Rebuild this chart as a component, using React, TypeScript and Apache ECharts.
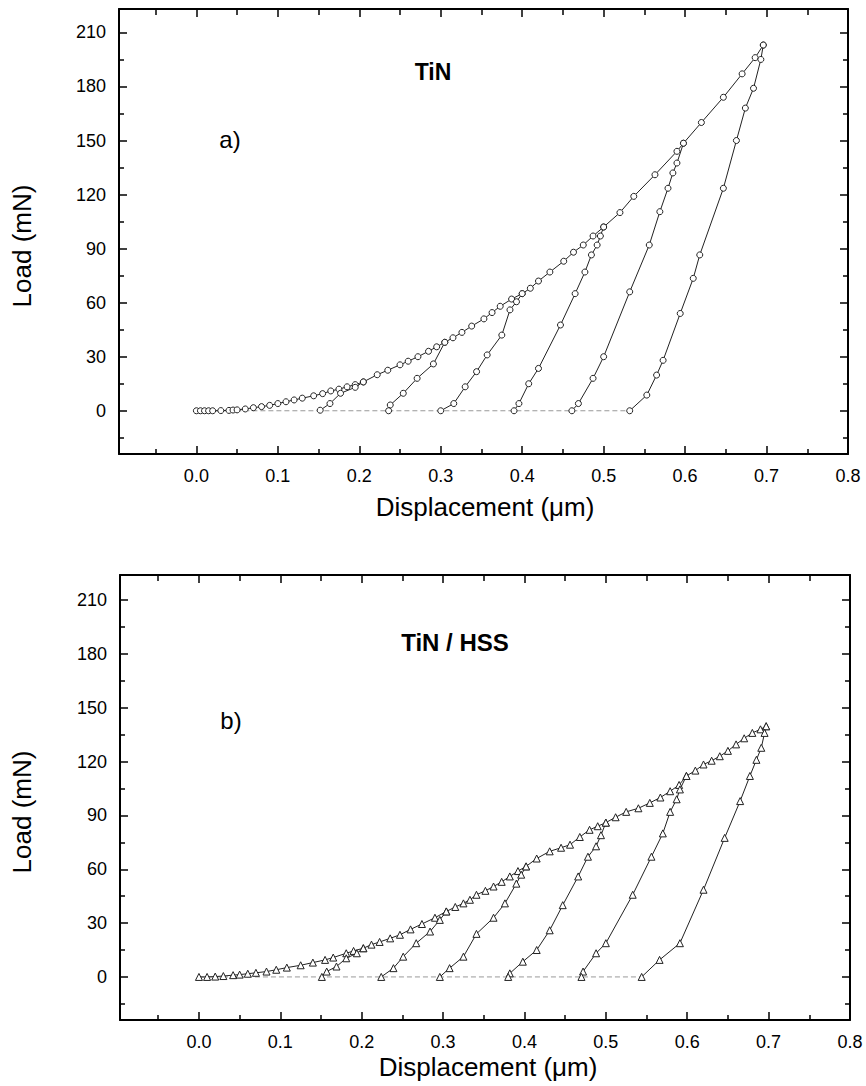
import React, { useEffect, useRef } from "react";
import * as echarts from "echarts";

const FONT = "'Liberation Sans', Arial, Helvetica, sans-serif";

// Tick values
const xMajor = [0, 0.1, 0.2, 0.3, 0.4, 0.5, 0.6, 0.7, 0.8];
const xMinor = [-0.05, 0.05, 0.15, 0.25, 0.35, 0.45, 0.55, 0.65, 0.75];
const yMajor = [0, 30, 60, 90, 120, 150, 180, 210];
const yMinor = [-15, 15, 45, 75, 105, 135, 165, 195];

// ---- Panel a) TiN : loading envelope and unloading curves (displacement µm, load mN)
const envA: number[][] = [
  [0, 0], [0.005, 0], [0.01, 0], [0.015, 0], [0.02, 0], [0.03, 0.1], [0.04, 0.2], [0.045, 0.4],
  [0.05, 0.5], [0.06, 1], [0.07, 1.7], [0.08, 2.3], [0.09, 3], [0.1, 4], [0.11, 5], [0.12, 6],
  [0.13, 7], [0.144, 8.3], [0.155, 9.5], [0.165, 11], [0.175, 12], [0.185, 13.3], [0.195, 14.5],
  [0.205, 16], [0.222, 20], [0.235, 22.5], [0.25, 25.5], [0.26, 27.5], [0.272, 30], [0.285, 33],
  [0.295, 35.5], [0.305, 38], [0.315, 40.5], [0.326, 43.5], [0.338, 47], [0.353, 51], [0.363, 54.5],
  [0.373, 58], [0.387, 62], [0.4, 65], [0.41, 68], [0.42, 72], [0.434, 77], [0.451, 83], [0.463, 88],
  [0.475, 92], [0.487, 97], [0.5, 102], [0.52, 110], [0.537, 119], [0.563, 131], [0.59, 144],
  [0.598, 148.5], [0.62, 160], [0.647, 174], [0.67, 187], [0.686, 196], [0.696, 203],
];
const unA2: number[][] = [[0.205, 16], [0.195, 13], [0.177, 9.7], [0.164, 4], [0.152, 0.3]];
const unA3: number[][] = [[0.305, 38], [0.291, 26], [0.271, 18], [0.254, 9.7], [0.238, 3.2], [0.236, 0]];
const unA4: number[][] = [
  [0.4, 65], [0.393, 60.5], [0.385, 56], [0.375, 42], [0.357, 31], [0.344, 21.7], [0.33, 13.3],
  [0.316, 4], [0.3, 0],
];
const unA5: number[][] = [
  [0.5, 102], [0.496, 97], [0.492, 92], [0.485, 86.5], [0.477, 77], [0.465, 65], [0.447, 47.6],
  [0.42, 23.5], [0.408, 15], [0.396, 4], [0.39, 0],
];
const unA6: number[][] = [
  [0.598, 148.5], [0.59, 137.5], [0.585, 132], [0.579, 123.5], [0.569, 110.5], [0.556, 92],
  [0.532, 66], [0.5, 30], [0.487, 18], [0.469, 4], [0.461, 0],
];
const unA7: number[][] = [
  [0.696, 203], [0.693, 195], [0.684, 179], [0.674, 168], [0.663, 150], [0.647, 123.5],
  [0.618, 86.5], [0.61, 73.5], [0.594, 54], [0.573, 28], [0.565, 19.8], [0.553, 8.7], [0.532, 0],
];
const baseA: number[][] = [[0, 0], [0.532, 0]];

// ---- Panel b) TiN / HSS
const envB: number[][] = [
  [0, 0], [0.01, 0], [0.02, 0.2], [0.03, 0.5], [0.042, 1], [0.05, 1.3], [0.06, 1.8], [0.07, 2.3],
  [0.083, 3], [0.095, 4], [0.108, 5.2], [0.125, 6.5], [0.14, 8], [0.155, 9.5], [0.165, 10.8],
  [0.181, 13.2], [0.19, 14.5], [0.202, 16], [0.212, 18], [0.222, 19.5], [0.235, 21.5],
  [0.247, 23.5], [0.26, 26.5], [0.274, 29.5], [0.29, 33], [0.304, 36.5], [0.315, 39],
  [0.325, 41], [0.333, 43], [0.341, 45.8], [0.352, 48], [0.362, 50.4], [0.372, 53],
  [0.382, 56], [0.392, 59], [0.402, 61.6], [0.415, 66], [0.431, 70], [0.445, 72],
  [0.456, 73.7], [0.468, 78], [0.48, 82], [0.49, 84], [0.5, 86], [0.512, 89], [0.525, 92],
  [0.54, 94], [0.554, 97], [0.567, 100], [0.579, 103.5], [0.59, 107], [0.599, 112],
  [0.61, 115], [0.62, 118.4], [0.63, 120.5], [0.64, 123], [0.65, 126], [0.66, 129.6],
  [0.67, 133], [0.68, 136], [0.69, 138], [0.697, 139.7],
];
const unB2: number[][] = [[0.202, 16], [0.194, 13.2], [0.181, 10.4], [0.169, 5.8], [0.157, 3], [0.151, 0]];
const unB3: number[][] = [
  [0.304, 36.5], [0.296, 31.8], [0.284, 25.3], [0.267, 18.8], [0.251, 11.3], [0.239, 4.9], [0.224, 0],
];
const unB4: number[][] = [
  [0.402, 61.6], [0.396, 57], [0.39, 52], [0.376, 41], [0.362, 33], [0.341, 24], [0.325, 11.3],
  [0.308, 4.9], [0.296, 0],
];
const unB5: number[][] = [
  [0.5, 86], [0.494, 79], [0.488, 72.8], [0.478, 67], [0.466, 56], [0.447, 40], [0.431, 26],
  [0.415, 15], [0.398, 8.5], [0.382, 2], [0.38, 0],
];
const unB6: number[][] = [
  [0.599, 112], [0.591, 104.5], [0.587, 99], [0.579, 92], [0.57, 80], [0.556, 67], [0.533, 45.8],
  [0.5, 18.8], [0.488, 13.2], [0.472, 3], [0.47, 0],
];
const unB7: number[][] = [
  [0.697, 139.7], [0.695, 136], [0.691, 127.7], [0.685, 121], [0.677, 112], [0.665, 98],
  [0.646, 77.5], [0.62, 48.6], [0.591, 18.8], [0.566, 9.5], [0.544, 0],
];
const baseB: number[][] = [[0, 0], [0.544, 0]];

function xAxesFor(gridIndex: number, min: number, max: number) {
  const common = { type: "value", gridIndex, min, max, splitLine: { show: false } };
  return [
    {
      ...common,
      position: "bottom",
      axisLine: { show: true, onZero: false, lineStyle: { color: "#000", width: 2 } },
      axisTick: { show: true, inside: true, length: 8, customValues: xMajor, lineStyle: { color: "#000", width: 1.5 } },
      axisLabel: {
        show: true, customValues: xMajor, margin: 13, fontSize: 18, color: "#000", fontFamily: FONT,
        formatter: (v: number) => v.toFixed(1),
      },
    },
    {
      ...common,
      position: "bottom",
      axisLine: { show: false, onZero: false },
      axisTick: { show: true, inside: true, length: 5, customValues: xMinor, lineStyle: { color: "#000", width: 1.5 } },
      axisLabel: { show: false },
    },
    {
      ...common,
      position: "top",
      axisLine: { show: true, onZero: false, lineStyle: { color: "#000", width: 2 } },
      axisTick: { show: true, inside: true, length: 8, customValues: xMajor, lineStyle: { color: "#000", width: 1.5 } },
      axisLabel: { show: false },
    },
    {
      ...common,
      position: "top",
      axisLine: { show: false, onZero: false },
      axisTick: { show: true, inside: true, length: 6, customValues: xMinor, lineStyle: { color: "#000", width: 1.5 } },
      axisLabel: { show: false },
    },
  ];
}

function yAxesFor(gridIndex: number, min: number, max: number) {
  const common = { type: "value", gridIndex, min, max, splitLine: { show: false } };
  return [
    {
      ...common,
      position: "left",
      axisLine: { show: true, onZero: false, lineStyle: { color: "#000", width: 2 } },
      axisTick: { show: true, inside: true, length: 8, customValues: yMajor, lineStyle: { color: "#000", width: 1.5 } },
      axisLabel: {
        show: true, customValues: yMajor, margin: 13, fontSize: 18, color: "#000", fontFamily: FONT,
        formatter: (v: number) => String(Math.round(v)),
      },
    },
    {
      ...common,
      position: "left",
      axisLine: { show: false, onZero: false },
      axisTick: { show: true, inside: true, length: 5, customValues: yMinor, lineStyle: { color: "#000", width: 1.5 } },
      axisLabel: { show: false },
    },
    {
      ...common,
      position: "right",
      axisLine: { show: true, onZero: false, lineStyle: { color: "#000", width: 2 } },
      axisTick: { show: true, inside: true, length: 8, customValues: yMajor, lineStyle: { color: "#000", width: 1.5 } },
      axisLabel: { show: false },
    },
    {
      ...common,
      position: "right",
      axisLine: { show: false, onZero: false },
      axisTick: { show: true, inside: true, length: 5, customValues: yMinor, lineStyle: { color: "#000", width: 1.5 } },
      axisLabel: { show: false },
    },
  ];
}

function curve(data: number[][], axisIdx: number, symbol: string) {
  return {
    type: "line",
    xAxisIndex: axisIdx,
    yAxisIndex: axisIdx,
    data,
    symbol,
    symbolSize: symbol === "circle" ? 6 : 7,
    showSymbol: true,
    z: 3,
    lineStyle: { color: "#222", width: 1, type: "solid" },
    itemStyle: { color: "#fff", borderColor: "#222", borderWidth: 1 },
    emphasis: { disabled: true },
  };
}

function baseline(data: number[][], axisIdx: number) {
  return {
    type: "line",
    xAxisIndex: axisIdx,
    yAxisIndex: axisIdx,
    data,
    showSymbol: false,
    symbol: "none",
    z: 2,
    lineStyle: { color: "#999", width: 1, type: [5, 3] },
    emphasis: { disabled: true },
  };
}

export default function App() {
  const ref = useRef<HTMLDivElement>(null);
  useEffect(() => {
    document.body.style.margin = "0";
    if (!ref.current) return;
    const chart = echarts.init(ref.current, undefined, { renderer: "svg" });
    const option = {
      animation: false,
      backgroundColor: "#fff",
      grid: [
        { left: 119, right: 18, top: 9, height: 445 },
        { left: 120, right: 16, top: 575, height: 445 },
      ],
      xAxis: [...xAxesFor(0, -0.095, 0.8), ...xAxesFor(1, -0.097, 0.8)],
      yAxis: [...yAxesFor(0, -24, 223), ...yAxesFor(1, -24, 224)],
      series: [
        baseline(baseA, 0),
        curve(envA, 0, "circle"),
        curve(unA2, 0, "circle"),
        curve(unA3, 0, "circle"),
        curve(unA4, 0, "circle"),
        curve(unA5, 0, "circle"),
        curve(unA6, 0, "circle"),
        curve(unA7, 0, "circle"),
        baseline(baseB, 4),
        curve(envB, 4, "triangle"),
        curve(unB2, 4, "triangle"),
        curve(unB3, 4, "triangle"),
        curve(unB4, 4, "triangle"),
        curve(unB5, 4, "triangle"),
        curve(unB6, 4, "triangle"),
        curve(unB7, 4, "triangle"),
      ],
      graphic: [
        { type: "text", x: 22, y: 246, rotation: Math.PI / 2,
          style: { text: "Load (mN)", fontSize: 26, fontFamily: FONT, fill: "#000", align: "center", verticalAlign: "middle" } },
        { type: "text", x: 22, y: 812, rotation: Math.PI / 2,
          style: { text: "Load (mN)", fontSize: 26, fontFamily: FONT, fill: "#000", align: "center", verticalAlign: "middle" } },
        { type: "text", x: 485, y: 507,
          style: { text: "Displacement (\u03bcm)", fontSize: 26, fontFamily: FONT, fill: "#000", align: "center", verticalAlign: "middle" } },
        { type: "text", x: 488, y: 1067,
          style: { text: "Displacement (\u03bcm)", fontSize: 26, fontFamily: FONT, fill: "#000", align: "center", verticalAlign: "middle" } },
        { type: "text", x: 433, y: 72,
          style: { text: "TiN", fontSize: 23, fontWeight: "bold", fontFamily: FONT, fill: "#000", align: "center", verticalAlign: "middle" } },
        { type: "text", x: 230, y: 139,
          style: { text: "a)", fontSize: 24, fontFamily: FONT, fill: "#000", align: "center", verticalAlign: "middle" } },
        { type: "text", x: 455, y: 642,
          style: { text: "TiN / HSS", fontSize: 24, fontWeight: "bold", fontFamily: FONT, fill: "#000", align: "center", verticalAlign: "middle" } },
        { type: "text", x: 231, y: 720,
          style: { text: "b)", fontSize: 24, fontFamily: FONT, fill: "#000", align: "center", verticalAlign: "middle" } },
      ],
    };
    chart.setOption(option as any);
    return () => chart.dispose();
  }, []);
  return <div ref={ref} style={{ width: 866, height: 1086 }} />;
}
